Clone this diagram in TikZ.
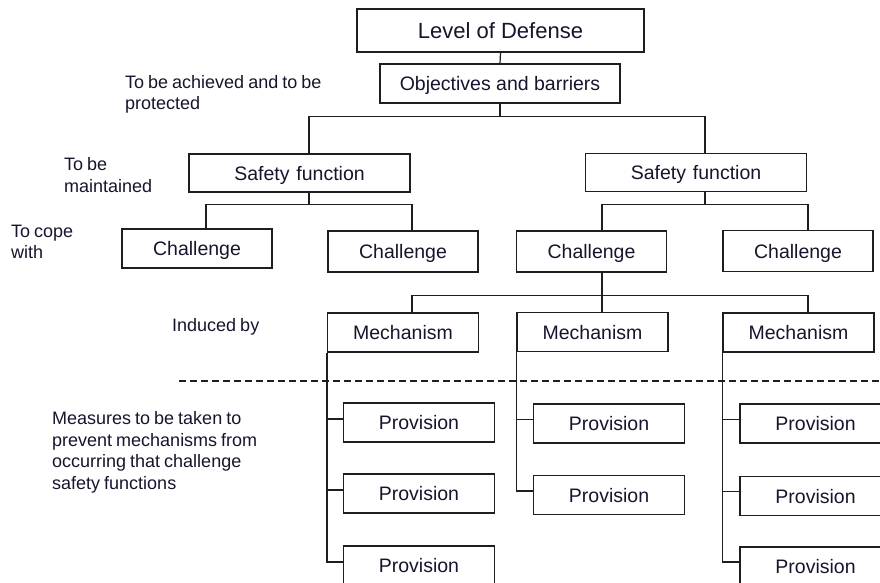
\documentclass[tikz,border=0pt]{standalone}
\usepackage{fontspec}
\setmainfont{Liberation Sans}
\newfontfamily\labelfont{Liberation Sans}[WordSpace=0.8]
\definecolor{linec}{RGB}{30,30,30}
\definecolor{textc}{RGB}{25,20,45}
\begin{document}
\begin{tikzpicture}[x=1pt,y=-1pt,
  box/.style={draw=linec, line width=1.2pt, fill=white, inner sep=0pt,
    text height=14pt, text depth=0pt, text=textc,
    font=\fontsize{19.5}{22}\selectfont},
  sfbox/.style={box, minimum width=221pt, minimum height=38pt},
  chbox/.style={box, minimum width=150pt, minimum height=40pt},
  mechbox/.style={box, minimum width=151pt, minimum height=39pt},
  provbox/.style={box, minimum width=151pt, minimum height=39pt},
  lbl/.style={anchor=north west, inner sep=0pt, align=left, text=textc,
    font=\labelfont\fontsize{18}{21.6}\selectfont},
  conn/.style={draw=linec, line width=1.2pt},
  sep/.style={draw=linec, line width=1.1pt, dash pattern=on 7pt off 4pt}
]
\useasboundingbox (0,0) rectangle (880,583);
\clip (0,0) rectangle (880,583);
\fill[white] (0,0) rectangle (880,583);

% boxes
\node[box, minimum width=287pt, minimum height=43pt, text height=15.75pt,
  font=\fontsize{22}{26}\selectfont] (lod) at (500.5,30.5) {Level of Defense};
\node[box, minimum width=240pt, minimum height=39pt] (obj) at (500,83.5) {Objectives and barriers};
\node[sfbox] (sf1) at (299.5,173) {Safety\hspace{1.5pt} function};
\node[sfbox] (sf2) at (696,172.5) {Safety\hspace{1.5pt} function};
\node[chbox, minimum height=39pt] (ch1) at (197,248.5) {Challenge};
\node[chbox, minimum height=41pt] (ch2) at (403,251.5) {Challenge};
\node[chbox, minimum height=41pt] (ch3) at (591.5,251.5) {Challenge};
\node[chbox, minimum height=41pt] (ch4) at (798,251) {Challenge};
\node[mechbox] (m1) at (403,332.5) {Mechanism};
\node[mechbox] (m2) at (592.5,332) {Mechanism};
\node[mechbox] (m3) at (798.5,332.5) {Mechanism};
\node[provbox] (p11) at (419,422.5) {Provision};
\node[provbox] (p12) at (419,493.5) {Provision};
\node[provbox] (p13) at (419,565.5) {Provision};
\node[provbox] (p21) at (609,423.5) {Provision};
\node[provbox] (p22) at (609,495) {Provision};
\node[provbox] (p31) at (815.5,423.5) {Provision};
\node[provbox] (p32) at (815.5,496) {Provision};
\node[provbox] (p33) at (815.5,566.5) {Provision};

% connectors
\draw[conn] (lod.south) -- (obj.north);
\draw[conn] (obj.south) -- ++(0,13) coordinate (j0);
\draw[conn] ([xshift=9.5pt]sf1.north) |- (j0) -| ([xshift=9pt]sf2.north);

\draw[conn] ([xshift=9.5pt]sf1.south) -- ++(0,12) coordinate (j1);
\draw[conn] ([xshift=9pt]ch1.north) |- (j1) -| ([xshift=9pt]ch2.north);

\draw[conn] ([xshift=9pt]sf2.south) -- ++(0,12) coordinate (j2);
\draw[conn] ([xshift=10.5pt]ch3.north) |- (j2) -| ([xshift=10pt]ch4.north);

\draw[conn] ([xshift=10.5pt]ch3.south) -- ([xshift=9.5pt]m2.north);
\coordinate (j3) at ([yshift=-23pt,xshift=10.5pt]ch3.south);
\draw[conn] ([xshift=9pt]m1.north) |- (j3) -| ([xshift=9.5pt]m3.north);

\draw[conn] (m1.south west) |- ([yshift=3.5pt]p11.west);
\draw[conn] (m1.south west) |- ([yshift=3.5pt]p12.west);
\draw[conn] (m1.south west) |- ([yshift=3.5pt]p13.west);
\draw[conn] (m2.south west) |- ([yshift=4pt]p21.west);
\draw[conn] (m2.south west) |- ([yshift=4pt]p22.west);
\draw[conn] (m3.south west) |- ([yshift=4pt]p31.west);
\draw[conn] (m3.south west) |- ([yshift=4.5pt]p32.west);
\draw[conn] (m3.south west) |- ([yshift=4.5pt]p33.west);

% separator
\draw[sep] (179,381) -- (880,381);

% labels
\node[lbl] (lab1) at (125,75) {To be achieved and to be\\protected};
\node[lbl] (lab2) at (64,157.5) {To be\\maintained};
\node[lbl] (lab3) at (11,224.5) {To cope\\with};
\node[lbl] (lab4) at (172,318.5) {Induced by};
\node[lbl] (lab5) at (52,411.5) {Measures to be taken to\\prevent mechanisms from\\occurring that challenge\\safety functions};
\end{tikzpicture}
\end{document}
